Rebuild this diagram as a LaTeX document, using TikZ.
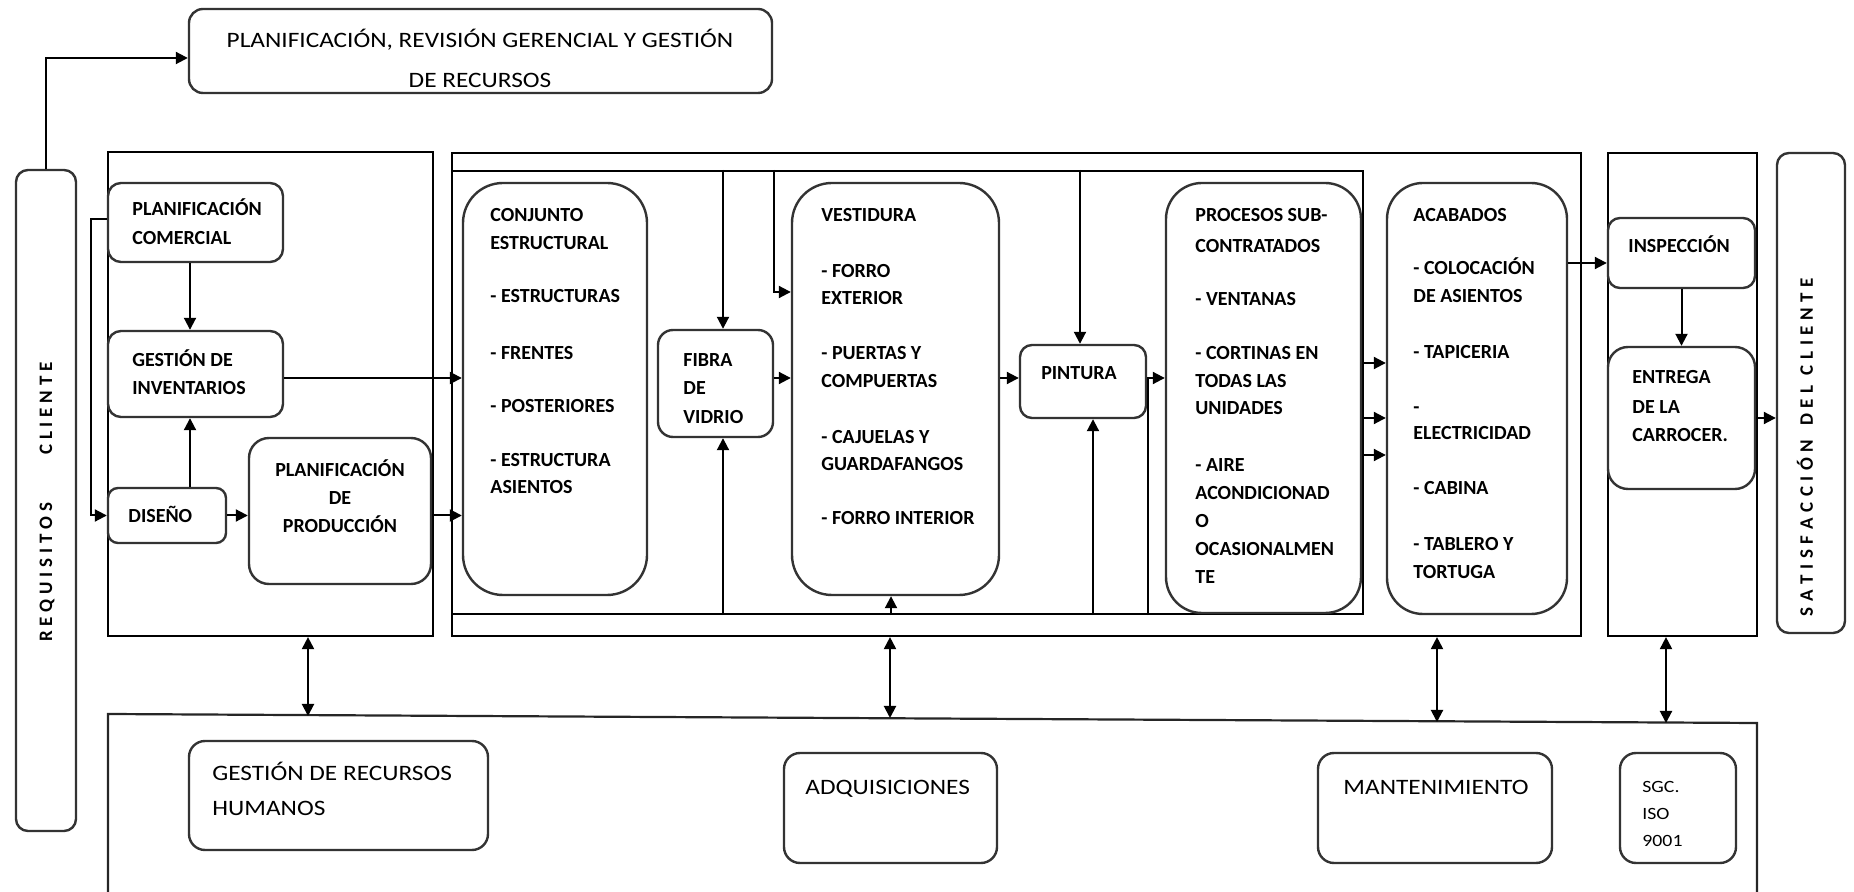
\documentclass[tikz,border=0pt]{standalone}
\usepackage{fontspec}
\setmainfont{Carlito}
\newfontfamily\regfont{Carlito}[FakeStretch=1.15]
\usetikzlibrary{arrows.meta,fit}

% letter-spaced text: kern #1 between the characters of #2
\makeatletter
\newcommand\spreadtext[2]{\def\sp@sep{}\@tfor\sp@chr:=#2\do{\sp@sep\sp@chr\def\sp@sep{\kern#1}}}
\makeatother

\begin{document}
\begin{tikzpicture}[x=0.5pt,y=-0.5pt,
  frame/.style={draw=black, line width=1.1pt, inner sep=0pt},
  rbox/.style={draw=black!80, line width=1.2pt, inner sep=0pt},
  conn/.style={line width=1pt, -{Triangle[length=6pt,width=6pt]}},
  dconn/.style={line width=1pt, {Triangle[length=6pt,width=6pt]}-{Triangle[length=6pt,width=6pt]}},
  bt/.style={font=\fontsize{10}{12}\selectfont\bfseries, inner sep=0pt, anchor=base west, yshift=-3.2pt},
  btc/.style={bt, anchor=base},
  rt/.style={font=\regfont\fontsize{11}{13}\selectfont, inner sep=0pt, anchor=base west, yshift=-3.55pt},
  rtc/.style={rt, anchor=base},
  st/.style={font=\regfont\fontsize{8.6}{10}\selectfont, inner sep=0pt, anchor=base west, yshift=-2.8pt},
  vt/.style={font=\fontsize{9.5}{11}\selectfont\bfseries, inner sep=0pt, rotate=90}]

\useasboundingbox (0,0) rectangle (1854,892);

% ---------- frames ----------
\node[frame, fit={(108,152)(433,636)}] (leftP) {};
\node[frame, fit={(452,153)(1581,636)}] (midO) {};
\node[frame, fit={(452,171)(1363,614)}] (midI) {};
\node[frame, fit={(1608,153)(1757,636)}] (rightP) {};
\draw[line width=1.1pt, black!85] (108,892) -- (108,714) -- (1757,723) -- (1757,892);

% ---------- boxes ----------
\node[rbox, rounded corners=7pt, fit={(189,9)(772,93)}] (top) {};
\node[rbox, rounded corners=6pt, fit={(16,170)(76,831)}] (req) {};
\node[rbox, rounded corners=6.5pt, fit={(108,183)(283,262)}] (pc) {};
\node[rbox, rounded corners=6.5pt, fit={(108,331)(283,417)}] (gi) {};
\node[rbox, rounded corners=5pt, fit={(108,488)(226,543)}] (dis) {};
\node[rbox, rounded corners=10pt, fit={(249,438)(431,584)}] (pp) {};
\node[rbox, rounded corners=20pt, fit={(463,183)(647,595)}] (ce) {};
\node[rbox, rounded corners=7.5pt, fit={(658,330)(773,437)}] (fv) {};
\node[rbox, rounded corners=20pt, fit={(792,183)(999,595)}] (ve) {};
\node[rbox, rounded corners=6pt, fit={(1020,345)(1146,418)}] (pi) {};
\node[rbox, rounded corners=18pt, fit={(1166,183)(1361,613)}] (ps) {};
\node[rbox, rounded corners=18pt, fit={(1387,183)(1567,614)}] (ac) {};
\node[rbox, rounded corners=6pt, fit={(1608,218)(1755,288)}] (in) {};
\node[rbox, rounded corners=10pt, fit={(1608,347)(1755,489)}] (en) {};
\node[rbox, rounded corners=6pt, fit={(1777,153)(1845,633)}] (sat) {};
\node[rbox, rounded corners=8pt, fit={(189,741)(488,850)}] (rh) {};
\node[rbox, rounded corners=8pt, fit={(784,753)(997,863)}] (adq) {};
\node[rbox, rounded corners=8pt, fit={(1318,753)(1552,863)}] (man) {};
\node[rbox, rounded corners=8pt, fit={(1620,753)(1736,863)}] (sgc) {};

% ---------- texts ----------
\node[rtc] (top-t1) at (480,40) {PLANIFICACIÓN, REVISIÓN GERENCIAL Y GESTIÓN};
\node[rtc] (top-t2) at (480,80) {DE RECURSOS};

\node[vt] (req-t) at (47,502) {\spreadtext{2.4pt}{REQUISITOS}\kern24pt\spreadtext{2.4pt}{CLIENTE}};
\node[vt] (sat-t) at (1805,447) {\spreadtext{2.8pt}{SATISFACCIÓN}\kern7pt\spreadtext{2.8pt}{DEL}\kern5pt\spreadtext{2.8pt}{CLIENTE}};

\foreach \t/\y [count=\i] in {{PLANIFICACIÓN}/209,{COMERCIAL}/238}
  \node[bt] (pc-t\i) at (132,\y) {\t};
\foreach \t/\y [count=\i] in {{GESTIÓN DE}/360,{INVENTARIOS}/388}
  \node[bt] (gi-t\i) at (132,\y) {\t};
\node[bt] (dis-t) at (128,516) {DISEÑO};
\foreach \t/\y [count=\i] in {{PLANIFICACIÓN}/470,{DE}/498,{PRODUCCIÓN}/526}
  \node[btc] (pp-t\i) at (340,\y) {\t};
\foreach \t/\y [count=\i] in {{CONJUNTO}/215,{ESTRUCTURAL}/243,{- ESTRUCTURAS}/296,{- FRENTES}/353,{- POSTERIORES}/406,{- ESTRUCTURA}/460,{ASIENTOS}/487}
  \node[bt] (ce-t\i) at (490,\y) {\t};
\foreach \t/\y [count=\i] in {{FIBRA}/360,{DE}/388,{VIDRIO}/417}
  \node[bt] (fv-t\i) at (683,\y) {\t};
\foreach \t/\y [count=\i] in {{VESTIDURA}/215,{- FORRO}/271,{EXTERIOR}/298,{- PUERTAS Y}/353,{COMPUERTAS}/381,{- CAJUELAS Y}/437,{GUARDAFANGOS}/464,{- FORRO INTERIOR}/518}
  \node[bt] (ve-t\i) at (821,\y) {\t};
\node[btc] (pi-t) at (1079,373) {PINTURA};
\foreach \t/\y [count=\i] in {{PROCESOS SUB-}/215,{CONTRATADOS}/246,{- VENTANAS}/299,{- CORTINAS EN}/353,{TODAS LAS}/381,{UNIDADES}/408,{- AIRE}/465,{ACONDICIONAD}/493,{O}/521,{OCASIONALMEN}/549,{TE}/577}
  \node[bt] (ps-t\i) at (1195,\y) {\t};
\foreach \t/\y [count=\i] in {{ACABADOS}/215,{- COLOCACIÓN}/268,{DE ASIENTOS}/296,{- TAPICERIA}/352,{-}/407,{ELECTRICIDAD}/433,{- CABINA}/488,{- TABLERO Y}/544,{TORTUGA}/572}
  \node[bt] (ac-t\i) at (1413,\y) {\t};
\node[bt] (in-t) at (1628,246) {INSPECCIÓN};
\foreach \t/\y [count=\i] in {{ENTREGA}/377,{DE LA}/407,{CARROCER.}/435}
  \node[bt] (en-t\i) at (1632,\y) {\t};

\foreach \t/\y [count=\i] in {{GESTIÓN DE RECURSOS}/773,{HUMANOS}/808}
  \node[rt] (rh-t\i) at (212,\y) {\t};
\node[rt] (adq-t) at (805,787) {ADQUISICIONES};
\node[rtc] (man-t) at (1436,787) {MANTENIMIENTO};
\foreach \t/\y [count=\i] in {{SGC.}/787,{ISO}/814,{9001}/841}
  \node[st] (sgc-t\i) at (1642,\y) {\t};

% ---------- connectors ----------
\coordinate (yTop) at (0,58);
\draw[conn] (req.north) |- (top.west |- yTop);

\coordinate (xL) at (190,0);
\draw[conn] (pc.south -| xL) -- (gi.north -| xL);
\draw[conn] (dis.north -| xL) -- (gi.south -| xL);
\coordinate (yPC) at (0,219);
\coordinate (xLoop) at (91,0);
\draw[conn] (pc.west |- yPC) -| (xLoop |- dis.west) -- (dis.west);
\draw[conn] (dis.east) -- (pp.west |- dis.east);

\coordinate (yM) at (0,378);
\draw[conn] (gi.east |- yM) -- (ce.west |- yM);
\draw[conn] (pp.east |- dis.east) -- (ce.west |- dis.east);

\coordinate (xF) at (723,0);
\draw[conn] (midI.north -| xF) -- (fv.north -| xF);
\draw[conn] (midI.south -| xF) -- (fv.south -| xF);
\draw[conn] (fv.east |- yM) -- (ve.west |- yM);
\coordinate (cV) at (774,292);
\draw[conn] (midI.north -| cV) |- (ve.west |- cV);
\coordinate (xV) at (891,0);
\draw[conn] (midI.south -| xV) -- (ve.south -| xV);

\draw[conn] (ve.east |- yM) -- (pi.west |- yM);
\coordinate (xP1) at (1080,0);
\coordinate (xP2) at (1093,0);
\draw[conn] (midI.north -| xP1) -- (pi.north -| xP1);
\draw[conn] (midI.south -| xP2) -- (pi.south -| xP2);
\draw[conn] (pi.east |- yM) -- (ps.west |- yM);
\coordinate (xR) at (1148,0);
\draw[line width=1pt] (midI.south -| xR) -- (xR |- yM);

\foreach \yy [count=\i] in {363,418,455} {
  \coordinate (yA\i) at (0,\yy);
  \draw[conn] (midI.east |- yA\i) -- (ac.west |- yA\i);
}

\coordinate (yI) at (0,263);
\draw[conn] (ac.east |- yI) -- (in.west |- yI);
\draw[conn] (in.south) -- (en.north);
\draw[conn] (en.east) -- (sat.west |- en.east);

% support processes below
\coordinate (b1) at (308,716);
\coordinate (b2) at (890,718);
\coordinate (b3) at (1437,722);
\coordinate (b4) at (1666,723);
\draw[dconn] (leftP.south -| b1) -- (b1);
\draw[dconn] (midO.south -| b2) -- (b2);
\draw[dconn] (midO.south -| b3) -- (b3);
\draw[dconn] (rightP.south -| b4) -- (b4);

\end{tikzpicture}
\end{document}
